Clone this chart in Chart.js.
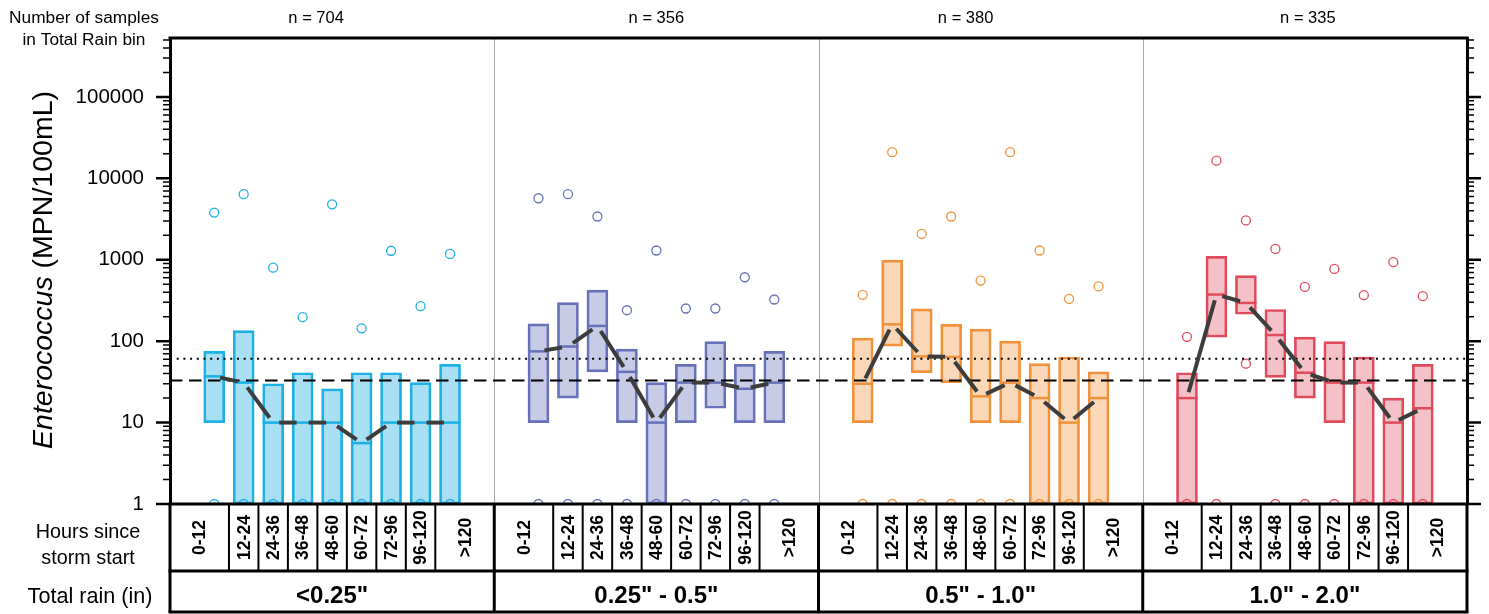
<!DOCTYPE html>
<html>
<head>
<meta charset="utf-8">
<script src="https://cdn.jsdelivr.net/npm/chart.js@4.4.1/dist/chart.umd.min.js"></script>
<style>
  body { margin: 0; background: #fff; }
  canvas { display: block; }
</style>
</head>
<body>
<canvas id="chartCanvas" width="1489" height="614"></canvas>
<script>
// categories
const hours = ['0-12', '12-24', '24-36', '36-48', '48-60', '60-72', '72-96', '96-120', '>120'];
const rainBins = ['<0.25"', '0.25" - 0.5"', '0.5" - 1.0"', '1.0" - 2.0"'];
const sampleCounts = [704, 356, 380, 335];

// box bottoms (25th percentile), one list per rain bin
const q1Rain1 = [10, 1, 1, 1, 1, 1, 1, 1, 1];
const q1Rain2 = [10, 20, 42, 10, 1, 10, 15, 10, 10];
const q1Rain3 = [10, 87, 41, 31, 10, 10, 1, 1, 1];
const q1Rain4 = [1, 112, 214, 36, 20, 10, 1, 1, 1];

// box tops (75th percentile)
const q3Rain1 = [75, 135, 30, 41, 26, 41, 41, 31, 52];
const q3Rain2 = [163, 298, 423, 80, 31, 52, 99, 52, 75];
const q3Rain3 = [109, 990, 249, 161, 141, 100, 53, 64, 42];
const q3Rain4 = [41, 1100, 640, 245, 112, 99, 64, 20, 52];

// medians
const medRain1 = [37, 31, 10, 10, 10, 5.6, 10, 10, 10];
const medRain2 = [75, 86, 154, 42, 10, 31, 31, 26, 31];
const medRain3 = [30, 161, 65, 64, 21, 31, 20, 10, 20];
const medRain4 = [20, 374, 295, 119, 41, 31, 31, 10, 15];

// highest single samples (open circles)
const maxRain1 = [3800, 6400, 800, 197, 4800, 144, 1290, 269, 1180];
const maxRain2 = [5700, 6400, 3400, 240, 1300, 252, 252, 610, 325];
const maxRain3 = [370, 21000, 2080, 3400, 556, 21000, 1300, 330, 470];
const maxRain4 = [113, 16500, 3040, 1360, 464, 773, 367, 934, 357];

// lowest single samples (open circles)
const minRain1 = [1, 1, 1, 1, 1, 1, 1, 1, 1];
const minRain2 = [1, 1, 1, 1, 1, 1, 1, 1, 1];
const minRain3 = [1, 1, 1, 1, 1, 1, 1, 1, 1];
const minRain4 = [1, 1, 53, 1, 1, 1, 1, 1, 1];

// reference levels (dotted, dashed)
const refLevels = [61, 33];

// y axis
const yMin = 1, yMax = 530000;
const yTickLabels = ['1', '10', '100', '1000', '10000', '100000'];

// styles
const lineColors = ['#1cb0e3', '#6671b9', '#f0923b', '#e04b5c'];
const fillColors = ['#a9dff2', '#c7cbe6', '#f9d7b7', '#f3c1c7'];
const refDash = [[2, 4.7], [12.5, 6.5]];
const FONT = "'Liberation Sans', Arial, sans-serif";

const bins = [
    { q1: q1Rain1, q3: q3Rain1, med: medRain1, hi: maxRain1, lo: minRain1 },
    { q1: q1Rain2, q3: q3Rain2, med: medRain2, hi: maxRain2, lo: minRain2 },
    { q1: q1Rain3, q3: q3Rain3, med: medRain3, hi: maxRain3, lo: minRain3 },
    { q1: q1Rain4, q3: q3Rain4, med: medRain4, hi: maxRain4, lo: minRain4 }
];

// each rain bin gets the hour slots plus an empty slot on both sides
const slotsPerBin = hours.length + 2;
const xMin = -0.5, xMax = rainBins.length * slotsPerBin - 0.5;
function slotOf(bin, i) { return bin * slotsPerBin + 1 + i; }

// minor + major tick values for the log axis
const yTickValues = [];
for (let e = 0; e <= 5; e++) {
    for (let m = 1; m <= 9; m++) {
        const v = m * Math.pow(10, e);
        if (v <= yMax) yTickValues.push(v);
    }
}

var datasets = [];
bins.forEach(function (b, k) {
    datasets.push({
        type: 'bar',
        data: hours.map(function (h, i) { return { x: slotOf(k, i), y: [b.q1[i], b.q3[i]] }; }),
        backgroundColor: fillColors[k],
        borderColor: lineColors[k],
        borderWidth: 2.7,
        borderSkipped: false,
        barThickness: 21,
        grouped: false,
        order: 5
    });
    datasets.push({
        type: 'line',
        showLine: false,
        data: hours.map(function (h, i) { return { x: slotOf(k, i), y: b.med[i] }; }),
        pointStyle: 'line',
        pointRadius: 10.5,
        pointBorderWidth: 2.5,
        pointBorderColor: lineColors[k],
        order: 4
    });
    datasets.push({
        type: 'line',
        showLine: false,
        clip: 0,
        data: hours.flatMap(function (h, i) {
            return [{ x: slotOf(k, i), y: b.hi[i] }, { x: slotOf(k, i), y: b.lo[i] }];
        }),
        pointStyle: 'circle',
        pointRadius: 4.5,
        pointBorderWidth: 1.3,
        pointBorderColor: lineColors[k],
        pointBackgroundColor: 'rgba(255,255,255,0)',
        order: 3
    });
});
refLevels.forEach(function (v, j) {
    datasets.push({
        type: 'line',
        data: [{ x: xMin, y: v }, { x: xMax, y: v }],
        borderColor: '#000',
        borderWidth: 2,
        borderDash: refDash[j],
        pointRadius: 0,
        clip: 0,
        order: 2
    });
});

// thin gray lines between rain bins
const binDividers = {
    id: 'binDividers',
    beforeDatasetsDraw(chart) {
        const { ctx, chartArea: a, scales: { x } } = chart;
        ctx.save();
        ctx.strokeStyle = '#a6a6a6';
        ctx.lineWidth = 1;
        for (let k = 1; k < rainBins.length; k++) {
            const px = Math.round(x.getPixelForValue(k * slotsPerBin - 0.5)) + 0.5;
            ctx.beginPath();
            ctx.moveTo(px, a.top);
            ctx.lineTo(px, a.bottom);
            ctx.stroke();
        }
        ctx.restore();
    }
};

// median-to-median segments, shortened at both ends
const medianLinks = {
    id: 'medianLinks',
    afterDatasetsDraw(chart) {
        const { ctx, scales: { x, y } } = chart;
        const gap = 6;
        ctx.save();
        ctx.strokeStyle = '#3d3d3d';
        ctx.lineWidth = 4;
        bins.forEach(function (b, k) {
            for (let i = 0; i < hours.length - 1; i++) {
                const x1 = x.getPixelForValue(slotOf(k, i)), y1 = y.getPixelForValue(b.med[i]);
                const x2 = x.getPixelForValue(slotOf(k, i + 1)), y2 = y.getPixelForValue(b.med[i + 1]);
                const len = Math.hypot(x2 - x1, y2 - y1);
                const ux = (x2 - x1) / len, uy = (y2 - y1) / len;
                ctx.beginPath();
                ctx.moveTo(x1 + ux * gap, y1 + uy * gap);
                ctx.lineTo(x2 - ux * gap, y2 - uy * gap);
                ctx.stroke();
            }
        });
        ctx.restore();
    }
};

// ticks, frame, table under the plot and all the side texts
const frame = {
    id: 'frame',
    afterDraw(chart) {
        const { ctx, chartArea: a, scales: { x, y } } = chart;
        ctx.save();
        ctx.strokeStyle = '#000';
        ctx.fillStyle = '#000';

        // tick marks on both sides
        y.ticks.forEach(function (t) {
            const lg = Math.log10(t.value);
            const major = Math.abs(lg - Math.round(lg)) < 1e-9;
            const len = major ? 14 : 7;
            const py = y.getPixelForValue(t.value);
            ctx.lineWidth = major ? 2.5 : 1.5;
            ctx.beginPath();
            ctx.moveTo(a.left - len, py); ctx.lineTo(a.left, py);
            ctx.moveTo(a.right, py); ctx.lineTo(a.right + len, py);
            ctx.stroke();
        });

        const rowMid = a.bottom + 67, rowEnd = a.bottom + 108;

        // horizontal frame lines
        ctx.lineWidth = 3;
        [a.top, a.bottom, rowMid, rowEnd].forEach(function (py) {
            ctx.beginPath();
            ctx.moveTo(a.left - 1.5, py); ctx.lineTo(a.right + 1.5, py);
            ctx.stroke();
        });
        // bin boundaries through the table
        for (let k = 0; k <= rainBins.length; k++) {
            const px = x.getPixelForValue(k * slotsPerBin - 0.5);
            ctx.beginPath();
            ctx.moveTo(px, a.bottom); ctx.lineTo(px, rowEnd);
            ctx.stroke();
        }
        // hour cell boundaries
        ctx.lineWidth = 2;
        for (let k = 0; k < rainBins.length; k++) {
            for (let i = 0; i < hours.length - 1; i++) {
                const px = x.getPixelForValue(slotOf(k, i) + 0.5);
                ctx.beginPath();
                ctx.moveTo(px, a.bottom); ctx.lineTo(px, rowMid);
                ctx.stroke();
            }
        }

        // hour labels, rotated, centred in their cells
        ctx.font = 'bold 17.5px ' + FONT;
        ctx.textAlign = 'center';
        ctx.textBaseline = 'middle';
        for (let k = 0; k < rainBins.length; k++) {
            hours.forEach(function (h, i) {
                const left = i === 0 ? k * slotsPerBin - 0.5 : slotOf(k, i) - 0.5;
                const right = i === hours.length - 1 ? (k + 1) * slotsPerBin - 0.5 : slotOf(k, i) + 0.5;
                const cx = (x.getPixelForValue(left) + x.getPixelForValue(right)) / 2;
                ctx.save();
                ctx.translate(cx + 1, (a.bottom + rowMid) / 2);
                ctx.rotate(-Math.PI / 2);
                ctx.fillText(h, 0, 0);
                ctx.restore();
            });
        }

        // rain bin labels and sample counts
        const nShift = [-16, 0, -15, 3];
        ctx.textBaseline = 'alphabetic';
        rainBins.forEach(function (r, k) {
            const cx = (x.getPixelForValue(k * slotsPerBin - 0.5) + x.getPixelForValue((k + 1) * slotsPerBin - 0.5)) / 2;
            ctx.font = 'bold 24px ' + FONT;
            ctx.fillText(r, cx, 603);
            ctx.font = '16.5px ' + FONT;
            ctx.fillText('n = ' + sampleCounts[k], cx + nShift[k], 23);
        });

        // left-hand texts
        ctx.font = '17.3px ' + FONT;
        ctx.fillText('Number of samples', 84, 22.5);
        ctx.fillText('in Total Rain bin', 84, 44.5);
        ctx.font = '19.8px ' + FONT;
        ctx.fillText('Hours since', 88, 538);
        ctx.fillText('storm start', 88, 564);
        ctx.font = '21.6px ' + FONT;
        ctx.fillText('Total rain (in)', 90, 603);

        // y title, italic genus name
        const part1 = 'Enterococcus', part2 = ' (MPN/100mL)';
        ctx.font = 'italic 28.5px ' + FONT;
        const w1 = ctx.measureText(part1).width;
        ctx.font = '28.5px ' + FONT;
        const w2 = ctx.measureText(part2).width;
        ctx.save();
        ctx.translate(52, 270);
        ctx.rotate(-Math.PI / 2);
        ctx.textAlign = 'left';
        ctx.font = 'italic 28.5px ' + FONT;
        ctx.fillText(part1, -(w1 + w2) / 2, 0);
        ctx.font = '28.5px ' + FONT;
        ctx.fillText(part2, -(w1 + w2) / 2 + w1, 0);
        ctx.restore();

        ctx.restore();
    }
};

const chart = new Chart(document.getElementById('chartCanvas'), {
    type: 'bar',
    data: { datasets: datasets },
    options: {
        responsive: false,
        animation: false,
        layout: { padding: { top: 38, bottom: 110, left: 0, right: 0 } },
        plugins: { legend: { display: false }, tooltip: { enabled: false } },
        scales: {
            x: { type: 'linear', min: xMin, max: xMax, offset: false, display: false },
            y: {
                type: 'logarithmic',
                position: 'left',
                min: yMin,
                max: yMax,
                afterFit: function (s) { s.width = 170; },
                afterBuildTicks: function (s) { s.ticks = yTickValues.map(function (v) { return { value: v }; }); },
                ticks: {
                    autoSkip: false,
                    padding: 12,
                    color: '#000',
                    font: { family: FONT, size: 20.5 },
                    callback: function (v) {
                        const lg = Math.round(Math.log10(v));
                        return Math.abs(Math.log10(v) - lg) < 1e-9 ? yTickLabels[lg] : '';
                    }
                },
                grid: { display: true, drawOnChartArea: false, drawTicks: true, tickLength: 14, tickColor: 'rgba(0,0,0,0)' },
                border: { display: true, width: 3, color: '#000' }
            },
            yRight: {
                type: 'logarithmic',
                position: 'right',
                min: yMin,
                max: yMax,
                afterFit: function (s) { s.width = 22; },
                ticks: { display: false },
                grid: { display: false },
                border: { display: true, width: 3, color: '#000' }
            }
        }
    },
    plugins: [binDividers, medianLinks, frame]
});
</script>
</body>
</html>
